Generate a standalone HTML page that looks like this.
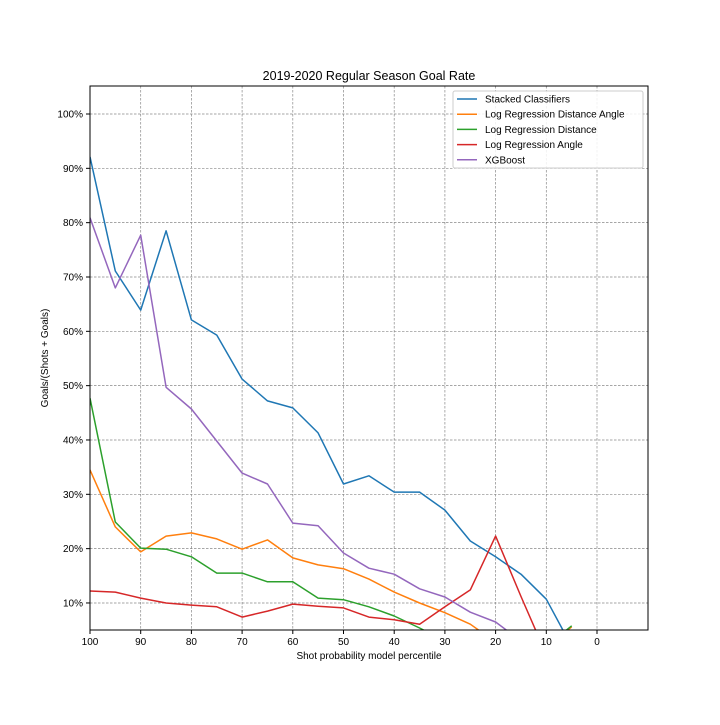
<!DOCTYPE html>
<html><head><meta charset="utf-8"><style>
body{margin:0;background:#fff;font-family:"Liberation Sans","DejaVu Sans",sans-serif}
svg text{font-family:"Liberation Sans","DejaVu Sans",sans-serif;fill:#000}
</style></head><body>
<svg id="chart" width="720" height="720" viewBox="0 0 720 720" xmlns="http://www.w3.org/2000/svg">
<defs><clipPath id="clip"><rect x="90" y="86" width="558" height="544"/></clipPath></defs>
<rect x="0" y="0" width="720" height="720" fill="#fff"/>
<text x="369" y="80" font-size="12.5" text-anchor="middle">2019-2020 Regular Season Goal Rate</text>
<g id="grid"></g>
<g id="lines" clip-path="url(#clip)"></g>
<rect x="90" y="86" width="558" height="544" fill="none" stroke="#000" stroke-width="1"/>
<g id="axes"></g>
<text x="369" y="659" font-size="10" text-anchor="middle">Shot probability model percentile</text>
<text transform="translate(48,358) rotate(-90)" font-size="10" text-anchor="middle">Goals/(Shots + Goals)</text>
<g id="legend"></g>
</svg>
<script>
const percentiles=[100,95,90,85,80,75,70,65,60,55,50,45,40,35,30,25,20,15,10,5];
const stacked=[92.1,71.1,63.9,78.5,62.1,59.3,51.2,47.2,45.9,41.3,31.9,33.4,30.4,30.4,27.1,21.4,18.5,15.3,10.7,2.0];
const lrDistAngle=[34.5,24.0,19.4,22.3,22.9,21.8,19.9,21.6,18.3,17.0,16.3,14.4,12.0,10.0,8.2,6.1,2.8,1.5,2.0,5.6];
const lrDistance=[47.7,24.9,20.1,19.9,18.5,15.5,15.5,13.9,13.9,10.9,10.6,9.3,7.6,5.4,3.0,2.0,1.5,1.5,2.0,5.8];
const lrAngle=[12.2,12.0,10.9,10.0,9.6,9.3,7.4,8.5,9.8,9.4,9.1,7.4,6.9,6.1,9.3,12.4,22.3,11.2,0.5,0.5];
const xgboost=[80.9,68.0,77.7,49.7,45.7,39.8,33.9,31.9,24.7,24.2,19.2,16.4,15.3,12.6,11.1,8.3,6.5,3.0,2.0,2.0];
const xTicks=[100,90,80,70,60,50,40,30,20,10,0];
const yTicks=[10,20,30,40,50,60,70,80,90,100];
const seriesNames=["Stacked Classifiers","Log Regression Distance Angle","Log Regression Distance","Log Regression Angle","XGBoost"];
const seriesData=[stacked,lrDistAngle,lrDistance,lrAngle,xgboost];
const colors=["#1f77b4","#ff7f0e","#2ca02c","#d62728","#9467bd"];
const NS="http://www.w3.org/2000/svg";
const xs=v=>90+(100-v)*5.07;
const ys=v=>114+(100-v)*5.433;
function mk(tag,attrs,parent){const e=document.createElementNS(NS,tag);for(const k in attrs)e.setAttribute(k,attrs[k]);parent.appendChild(e);return e;}
const grid=document.getElementById('grid'),axes=document.getElementById('axes'),lines=document.getElementById('lines'),legend=document.getElementById('legend');
xTicks.forEach(t=>{const x=xs(t);
 const g=mk('line',{x1:x,x2:x,y1:86,y2:630,stroke:'#888','stroke-width':0.7,'stroke-dasharray':'2.5,1.5'},grid);
 
 
 const tk=mk('line',{x1:x,x2:x,y1:630,y2:634,stroke:'#000'},axes);
 
 
 const tx=mk('text',{x:x,y:645,'font-size':10,'text-anchor':'middle'},axes);tx.textContent=t;
 
 
});
yTicks.forEach(t=>{const y=ys(t);
 const g=mk('line',{x1:90,x2:648,y1:y,y2:y,stroke:'#888','stroke-width':0.7,'stroke-dasharray':'2.5,1.5'},grid);
 
 
 const tk=mk('line',{x1:86,x2:90,y1:y,y2:y,stroke:'#000'},axes);
 
 
 const tx=mk('text',{x:83,y:y+3.5,'font-size':10,'text-anchor':'end'},axes);tx.textContent=t+'%';
 
 
});
seriesData.forEach((d,i)=>{
 const pts=d.map((v,j)=>xs(percentiles[j]).toFixed(1)+','+ys(v).toFixed(1)).join(' ');
 const p=mk('polyline',{points:pts,fill:'none',stroke:colors[i],'stroke-width':1.5,'stroke-linejoin':'round'},lines);
 
 
});
const lb=mk('rect',{x:453,y:91,width:190,height:77,fill:'#fff','fill-opacity':0.85,stroke:'#ccc',rx:2},legend);


seriesNames.forEach((n,i)=>{const y=99+i*15.2;
 const l=mk('line',{x1:457,x2:477,y1:y,y2:y,stroke:colors[i],'stroke-width':1.5},legend);
 
 
 const t=mk('text',{x:485,y:y+3.5,'font-size':10},legend);t.textContent=n;
 
 
});
</script>
</body></html>
